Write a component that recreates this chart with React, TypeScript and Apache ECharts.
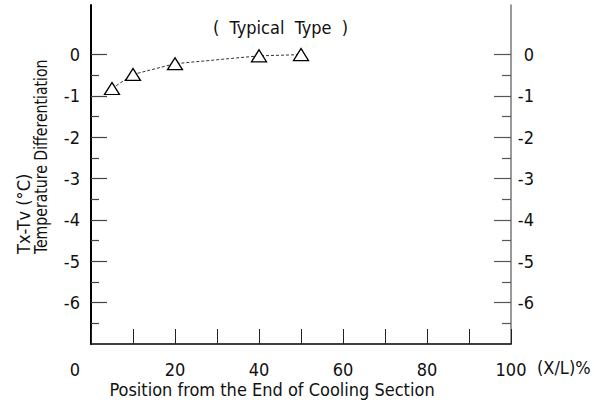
import React, { useEffect, useRef } from "react";
import * as echarts from "echarts";

const xValues = [5, 10, 20, 40, 50];
const yValues = [-0.82, -0.48, -0.22, -0.03, 0];
const xLabelValues = [0, 20, 40, 60, 80, 100];
const yMajorValues = [0, -1, -2, -3, -4, -5, -6];
const yMinorValues = [-0.5, -1.5, -2.5, -3.5, -4.5, -5.5, -6.5];

const FONT = '"Liberation Sans Narrow", "DejaVu Sans Condensed", "Liberation Sans", sans-serif';
const TXT = "#111";

export default function App() {
  const ref = useRef<HTMLDivElement>(null);
  useEffect(() => {
    if (!ref.current) return;
    document.body.style.margin = "0";
    const chart = echarts.init(ref.current, null, { renderer: "svg" });
    const yBase = { type: "value", min: -7, max: 1.2, splitLine: { show: false } };
    chart.setOption({
      animation: false,
      backgroundColor: "#fff",
      grid: { left: 91, right: 83, top: 5, bottom: 64 },
      xAxis: {
        type: "value",
        min: 0,
        max: 100,
        interval: 10,
        splitLine: { show: false },
        axisLine: { onZero: false, lineStyle: { color: "#000", width: 1.5 } },
        axisTick: { inside: true, length: 15, lineStyle: { color: "#222", width: 1 } },
        axisLabel: {
          margin: 16,
          fontFamily: FONT,
          fontSize: 18,
          color: TXT,
          formatter: (v: number) =>
            xLabelValues.includes(v) ? (v === 0 ? "{z|0}" : String(v)) : "",
          rich: { z: { fontFamily: FONT, fontSize: 18, color: TXT, padding: [0, 32, 0, 0] } },
        },
      },
      yAxis: [
        {
          ...yBase,
          position: "left",
          axisLine: { show: true, onZero: false, lineStyle: { color: "#000", width: 2 } },
          axisTick: { show: true, inside: true, length: 16, customValues: yMajorValues, lineStyle: { color: "#444", width: 1.2 } },
          axisLabel: { customValues: yMajorValues, margin: 11, fontFamily: FONT, fontSize: 18, color: TXT },
        },
        {
          ...yBase,
          position: "left",
          axisLine: { show: false, onZero: false },
          axisTick: { show: true, inside: true, length: 8, customValues: yMinorValues, lineStyle: { color: "#444", width: 1.2 } },
          axisLabel: { show: false },
        },
        {
          ...yBase,
          position: "right",
          axisLine: { show: true, onZero: false, lineStyle: { color: "#777", width: 1.5 } },
          axisTick: { show: true, inside: true, length: 17, customValues: yMajorValues, lineStyle: { color: "#555", width: 1.2 } },
          axisLabel: { customValues: yMajorValues, margin: 23, align: "right", fontFamily: FONT, fontSize: 18, color: TXT },
        },
        {
          ...yBase,
          position: "right",
          axisLine: { show: false, onZero: false },
          axisTick: { show: true, inside: true, length: 9, customValues: yMinorValues, lineStyle: { color: "#555", width: 1.2 } },
          axisLabel: { show: false },
        },
      ],
      series: [
        {
          type: "line",
          xAxisIndex: 0,
          yAxisIndex: 0,
          data: xValues.map((x, i) => [x, yValues[i]]),
          symbol: "triangle",
          symbolSize: [15, 12],
          itemStyle: { color: "#fff", borderColor: "#000", borderWidth: 1.3 },
          lineStyle: { color: "#333", width: 1, type: [3, 2] },
          z: 5,
        },
      ],
      graphic: [
        {
          type: "text",
          left: 213,
          top: 18,
          style: { text: "(  Typical  Type  )", font: `18px ${FONT}`, fill: TXT },
        },
        {
          type: "text",
          x: 537,
          y: 367,
          style: { text: "(X/L)%", font: `18px ${FONT}`, fill: TXT, align: "left", verticalAlign: "middle" },
        },
        {
          type: "text",
          x: 272,
          y: 389,
          style: { text: "Position from the End of Cooling Section", font: `18px ${FONT}`, fill: TXT, align: "center", verticalAlign: "middle" },
        },
        {
          type: "text",
          x: 23,
          y: 254,
          rotation: Math.PI / 2,
          style: { text: "Tx-Tv (°C)", font: `18px ${FONT}`, fill: TXT, align: "left", verticalAlign: "middle" },
        },
        {
          type: "text",
          x: 41,
          y: 254,
          rotation: Math.PI / 2,
          scaleX: 0.87,
          style: { text: "Temperature Differentiation", font: `18px ${FONT}`, fill: TXT, align: "left", verticalAlign: "middle" },
        },
      ],
    });
    return () => chart.dispose();
  }, []);
  return <div ref={ref} style={{ position: "fixed", left: 0, top: 0, width: 594, height: 408 }} />;
}
